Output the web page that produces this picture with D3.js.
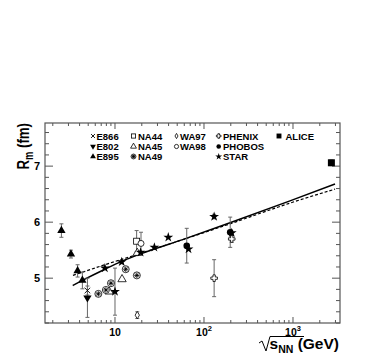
<!DOCTYPE html>
<html>
<head>
<meta charset="utf-8">
<script src="https://cdn.jsdelivr.net/npm/d3@7"></script>
<style>
body { margin: 0; background: #fff; }
text { font-family: "Liberation Sans", Arial, sans-serif; font-weight: bold; fill: #000; }
</style>
</head>
<body>
<svg id="chart" width="382" height="354"></svg>
<script>
// 每个实验的数据: [sqrt(s_NN) GeV, R_m fm, 误差]
var e866 = [[4.9, 4.78, 0.08]];
var e802 = [[4.9, 4.65, 0.35]];
var e895 = [[2.5, 5.85, 0.12], [3.2, 5.43, 0.07], [3.8, 5.13, 0.11], [4.3, 4.96, 0.15]];
var na44 = [[17.5, 5.66, 0.19]];
var na45 = [[8.6, 4.76, 0], [12.0, 4.98, 0], [17.8, 5.45, 0]];
var na49 = [[6.5, 4.72, 0], [7.9, 4.79, 0], [9.0, 4.91, 0], [13.2, 5.16, 0], [17.6, 5.05, 0]];
var wa97 = [[17.8, 4.34, 0.06]];
var wa98 = [[19.6, 5.62, 0.2]];
var phenix = [[130, 5.0, 0.33], [205, 5.70, 0.06]];
var phobos = [[64, 5.58, 0.31], [197, 5.82, 0.27]];
var star = [[7.7, 5.18, 0], [10.0, 4.76, 0.42], [11.9, 5.29, 0], [19.4, 5.46, 0], [27.7, 5.55, 0],
            [39.7, 5.73, 0], [67, 5.52, 0], [130, 6.10, 0.04], [205, 5.81, 0]];
var alice = [[2700, 7.06, 0.05]];

// 两条拟合曲线
var fitSolid = [[3.35, 4.87], [4.3, 4.96], [7.7, 5.16], [11.9, 5.30], [19.1, 5.43], [63, 5.71],
                [196, 5.99], [925, 6.38], [2966, 6.68]];
var fitDashed = [[3.37, 5.05], [7.7, 5.24], [19.1, 5.44], [196, 5.97], [925, 6.34], [2966, 6.59]];

// 图例
var legendNames = [["E866", "E802", "E895"], ["NA44", "NA45", "NA49"], ["WA97", "WA98"],
                   ["PHENIX", "PHOBOS", "STAR"], ["ALICE"]];

var xTicks = [10, 100, 1000];
var yTicks = [5, 6, 7];

var svg = d3.select("#chart");
var x = d3.scaleLog().domain([1.635, 3374]).range([45, 340]);
var y = d3.scaleLinear().domain([4.2, 7.77]).range([323, 123]);

// 符号
function starPath(r) {
    return d3.symbol().type(d3.symbolStar).size(r)();
}
function timesPath(s) {
    return "M" + (-s) + "," + (-s) + "L" + s + "," + s + "M" + (-s) + "," + s + "L" + s + "," + (-s);
}
function asteriskPath(s) {
    var p = "";
    for (var k = 0; k < 4; k++) {
        var a = k * Math.PI / 4;
        p += "M" + (-s * Math.cos(a)) + "," + (-s * Math.sin(a)) + "L" + (s * Math.cos(a)) + "," + (s * Math.sin(a));
    }
    return p;
}
function openCross(s) {
    var a = s * 0.35;
    return "M" + (-a) + "," + (-s) + "L" + a + "," + (-s) + "L" + a + "," + (-a) + "L" + s + "," + (-a) +
        "L" + s + "," + a + "L" + a + "," + a + "L" + a + "," + s + "L" + (-a) + "," + s + "L" + (-a) + "," + a +
        "L" + (-s) + "," + a + "L" + (-s) + "," + (-a) + "L" + (-a) + "," + (-a) + "Z";
}

// 画一个符号
function marker(g, type, k) {
    k = k || 1;
    if (type == "E866") {
        g.append("path").attr("d", timesPath(2.8 * k)).attr("stroke", "#000").attr("stroke-width", 0.9).attr("fill", "none");
    } else if (type == "E802") {
        g.append("path").attr("d", d3.symbol().type(d3.symbolTriangle).size(30 * k * k)()).attr("transform", "rotate(180)").attr("fill", "#000");
    } else if (type == "E895") {
        g.append("path").attr("d", d3.symbol().type(d3.symbolTriangle).size(30 * k * k)()).attr("fill", "#000");
    } else if (type == "NA44") {
        g.append("rect").attr("x", -3 * k).attr("y", -3 * k).attr("width", 6 * k).attr("height", 6 * k)
            .attr("fill", "#fff").attr("stroke", "#000").attr("stroke-width", 0.8);
    } else if (type == "NA45") {
        g.append("path").attr("d", d3.symbol().type(d3.symbolTriangle).size(30 * k * k)())
            .attr("fill", "#fff").attr("stroke", "#000").attr("stroke-width", 0.8);
    } else if (type == "NA49") {
        g.append("circle").attr("r", 3.5 * k).attr("fill", "#fff").attr("stroke", "#000").attr("stroke-width", 0.8);
        g.append("path").attr("d", asteriskPath(2.6 * k)).attr("stroke", "#000").attr("stroke-width", 0.9);
    } else if (type == "WA97") {
        g.append("path").attr("d", d3.symbol().type(d3.symbolDiamond).size(16 * k * k)())
            .attr("fill", "#fff").attr("stroke", "#000").attr("stroke-width", 0.8);
    } else if (type == "WA98") {
        g.append("circle").attr("r", 3 * k).attr("fill", "#fff").attr("stroke", "#000").attr("stroke-width", 0.8);
    } else if (type == "PHENIX") {
        g.append("path").attr("d", openCross(3.3 * k)).attr("fill", "#fff").attr("stroke", "#000").attr("stroke-width", 0.8);
    } else if (type == "PHOBOS") {
        g.append("circle").attr("r", 3.3 * k).attr("fill", "#000");
    } else if (type == "STAR") {
        g.append("path").attr("d", starPath(30 * k * k)).attr("fill", "#000");
    } else if (type == "ALICE") {
        g.append("rect").attr("x", -3.5 * k).attr("y", -3.5 * k).attr("width", 7 * k).attr("height", 7 * k).attr("fill", "#000");
    }
}

// 坐标框
svg.append("rect").attr("x", 45).attr("y", 123).attr("width", 295).attr("height", 200)
    .attr("fill", "none").attr("stroke", "#555").attr("stroke-width", 1.2);

// x 刻度
var minors = [];
[1, 10, 100, 1000].forEach(function (d) {
    for (var m = 1; m < 10; m++) {
        var v = d * m;
        if (v >= 1.635 && v <= 3374) minors.push(v);
    }
});
var ticks = svg.append("g").attr("stroke", "#555").attr("stroke-width", 1);
minors.forEach(function (v) {
    var L = xTicks.indexOf(v) >= 0 ? 6 : 3;
    ticks.append("line").attr("x1", x(v)).attr("x2", x(v)).attr("y1", 323).attr("y2", 323 - L);
    ticks.append("line").attr("x1", x(v)).attr("x2", x(v)).attr("y1", 123).attr("y2", 123 + L);
});
// y 刻度
d3.range(0, 19).forEach(function (i) {
    var v = 4.2 + i * 0.2;
    if (v > 7.77) return;
    var L = yTicks.some(function (t) { return Math.abs(t - v) < 1e-6; }) ? 8 : 4;
    ticks.append("line").attr("x1", 45).attr("x2", 45 + L).attr("y1", y(v)).attr("y2", y(v));
    ticks.append("line").attr("x1", 340).attr("x2", 340 - L).attr("y1", y(v)).attr("y2", y(v));
});

// 刻度标签
xTicks.forEach(function (v, i) {
    var t = svg.append("text").attr("x", x(v)).attr("y", 335.5).attr("font-size", 10.5).attr("text-anchor", "middle");
    t.append("tspan").text("10");
    if (i > 0) t.append("tspan").attr("dy", -5).attr("font-size", 7.5).text(i + 1);
});
yTicks.forEach(function (v) {
    svg.append("text").attr("x", 40).attr("y", y(v) + 4).attr("font-size", 11).attr("text-anchor", "end").text(v);
});

// 轴标题 (纵向压扁)
var yt = svg.append("text").attr("transform", "translate(29,123) rotate(-90) scale(0.78,1)")
    .attr("text-anchor", "end").attr("font-size", 17);
yt.append("tspan").text("R");
yt.append("tspan").attr("dy", 4).attr("font-size", 12).text("m");
yt.append("tspan").attr("dy", -4).text(" (fm)");

var xt = svg.append("text").attr("x", 339).attr("y", 349).attr("text-anchor", "end").attr("font-size", 15.5);
xt.append("tspan").text("s");
xt.append("tspan").attr("dy", 3.5).attr("font-size", 10.5).text("NN");
xt.append("tspan").attr("dy", -3.5).text(" (GeV)");
// 根号
svg.append("path").attr("d", "M259,343 L262,341 L266,351 L270,336.5 L304,336.5")
    .attr("fill", "none").attr("stroke", "#000").attr("stroke-width", 1);

// 拟合曲线
var line = d3.line().x(function (d) { return x(d[0]); }).y(function (d) { return y(d[1]); }).curve(d3.curveMonotoneX);
svg.append("path").attr("d", line(fitDashed)).attr("fill", "none").attr("stroke", "#000")
    .attr("stroke-width", 1.2).attr("stroke-dasharray", "3,2");
svg.append("path").attr("d", line(fitSolid)).attr("fill", "none").attr("stroke", "#000").attr("stroke-width", 1.5);

// 数据点
var allSets = [["E866", e866], ["E802", e802], ["E895", e895], ["NA44", na44], ["NA45", na45], ["NA49", na49],
               ["WA97", wa97], ["WA98", wa98], ["PHENIX", phenix], ["PHOBOS", phobos], ["STAR", star], ["ALICE", alice]];
var eb = svg.append("g").attr("stroke", "#666").attr("stroke-width", 1);
allSets.forEach(function (s) {
    s[1].forEach(function (d) {
        if (d[2] > 0) {
            var px = x(d[0]);
            eb.append("line").attr("x1", px).attr("x2", px).attr("y1", y(d[1] - d[2])).attr("y2", y(d[1] + d[2]));
            eb.append("line").attr("x1", px - 2).attr("x2", px + 2).attr("y1", y(d[1] - d[2])).attr("y2", y(d[1] - d[2]));
            eb.append("line").attr("x1", px - 2).attr("x2", px + 2).attr("y1", y(d[1] + d[2])).attr("y2", y(d[1] + d[2]));
        }
    });
});
allSets.forEach(function (s) {
    s[1].forEach(function (d) {
        var g = svg.append("g").attr("transform", "translate(" + x(d[0]) + "," + y(d[1]) + ")");
        marker(g, s[0]);
    });
});

// 图例
var colSym = [93, 133.5, 176.5, 218.7, 279];
var colText = [96.5, 138, 180, 223, 285.5];
var rowY = [136, 146.5, 156.5];
legendNames.forEach(function (col, i) {
    col.forEach(function (name, j) {
        var g = svg.append("g").attr("transform", "translate(" + colSym[i] + "," + rowY[j] + ")");
        marker(g, name, 0.7);
        svg.append("text").attr("x", colText[i]).attr("y", rowY[j] + 3.5).attr("font-size", 9.5).text(name);
    });
});
</script>
</body>
</html>
